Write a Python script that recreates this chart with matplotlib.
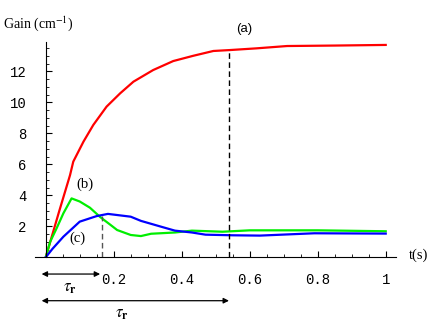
import matplotlib
matplotlib.use("Agg")
import matplotlib.pyplot as plt

plt.rcParams["mathtext.fontset"] = "stix"

# curve (a)
t_a = [0, 0.02, 0.04, 0.0715, 0.081, 0.111, 0.14, 0.179, 0.219, 0.258, 0.316,
       0.375, 0.434, 0.493, 0.542, 0.62, 0.71, 0.85, 1.0]
gain_a = [0, 1.5, 3.0, 5.3, 6.17, 7.46, 8.54, 9.72, 10.58, 11.33, 12.08,
          12.66, 13.0, 13.31, 13.37, 13.48, 13.63, 13.66, 13.7]

# curve (b)
t_b = [0, 0.013, 0.032, 0.052, 0.076, 0.1, 0.13, 0.16, 0.19, 0.21, 0.25,
       0.28, 0.31, 0.38, 0.43, 0.52, 0.6, 0.8, 1.0]
gain_b = [0, 1.0, 1.87, 2.84, 3.8, 3.6, 3.2, 2.6, 2.1, 1.76, 1.44,
          1.37, 1.52, 1.6, 1.72, 1.65, 1.74, 1.74, 1.68]

# curve (c)
t_c = [0, 0.02, 0.052, 0.1, 0.15, 0.183, 0.25, 0.28, 0.34, 0.38, 0.43,
       0.47, 0.55, 0.63, 0.79, 1.0]
gain_c = [0, 0.55, 1.33, 2.3, 2.66, 2.8, 2.62, 2.35, 1.97, 1.72, 1.6,
          1.46, 1.42, 1.4, 1.55, 1.53]

x_ticks = [0.2, 0.4, 0.6, 0.8, 1.0]
x_labels = ["0.2", "0.4", "0.6", "0.8", "1"]
y_ticks = [2, 4, 6, 8, 10, 12]
y_labels = ["2", "4", "6", "8", "10", "12"]

tau_short = 0.165
tau_long = 0.539

fig = plt.figure(figsize=(4.36, 3.25), dpi=100)
ax = fig.add_axes([0.0803, 0.2083, 0.828, 0.6625])

ax.plot(t_a, gain_a, color="#ff0000", lw=1.6)
ax.plot(t_b, gain_b, color="#00ee00", lw=1.6)
ax.plot(t_c, gain_c, color="#0000ff", lw=1.6)

ax.plot([tau_short, tau_short], [0, 2.65], ls=(0, (4, 2.5)), color="#555555", lw=1)
ax.plot([tau_long, tau_long], [0, 13.37], ls=(0, (4, 2.5)), color="black", lw=1)

ax.set_xlim(-0.0315, 1.0303)
ax.set_ylim(0, 13.89)

for s in ["top", "right"]:
    ax.spines[s].set_visible(False)
ax.spines["left"].set_position(("data", 0))
ax.spines["bottom"].set_position(("data", 0))
ax.spines["left"].set_linewidth(0.8)
ax.spines["bottom"].set_linewidth(0.8)

ax.set_xticks(x_ticks)
ax.set_xticklabels(x_labels, family="Liberation Mono", fontsize=10)
ax.set_xticks([i * 0.05 for i in range(1, 21)], minor=True)
ax.set_yticks(y_ticks)
ax.set_yticklabels(y_labels, family="Liberation Mono", fontsize=10)
ax.set_yticks([i * 0.5 for i in range(1, 28)], minor=True)
ax.tick_params(axis="x", which="both", direction="in", pad=11)
ax.tick_params(axis="y", which="both", direction="in", pad=14)
ax.tick_params(which="major", length=4, width=0.8)
ax.tick_params(which="minor", length=2.5, width=0.6)

ax.text(0.008, 0.926, r"Gain (cm$^{-1}$)", transform=fig.transFigure,
        family="Liberation Serif", fontsize=10, va="center")
ax.text(0.961, 0.215, "t(s)", transform=fig.transFigure,
        family="Liberation Serif", fontsize=10.5, ha="center", va="center")
ax.text(0.583, 14.73, "(a)", family="Liberation Sans", fontsize=9.5,
        ha="center", va="center", clip_on=False)
ax.text(0.114, 4.73, "(b)", family="Liberation Serif", fontsize=10.5,
        ha="center", va="center")
ax.text(0.094, 1.25, "(c)", family="Liberation Serif", fontsize=10.5,
        ha="center", va="center")

arrow = dict(arrowstyle="<|-|>", color="black", lw=0.9, mutation_scale=8,
             shrinkA=0, shrinkB=0)
ax.annotate("", xy=(-0.012, -1.08), xytext=(0.16, -1.08),
            arrowprops=arrow, annotation_clip=False)
ax.annotate("", xy=(-0.012, -2.8), xytext=(tau_long, -2.8),
            arrowprops=arrow, annotation_clip=False)
ax.text(0.072, -1.92, r"$\tau_\mathbf{r}$", fontsize=12,
        ha="center", va="center", clip_on=False)
ax.text(0.225, -3.6, r"$\tau_\mathbf{r}$", fontsize=12,
        ha="center", va="center", clip_on=False)

fig.savefig("out.png", dpi=100)
